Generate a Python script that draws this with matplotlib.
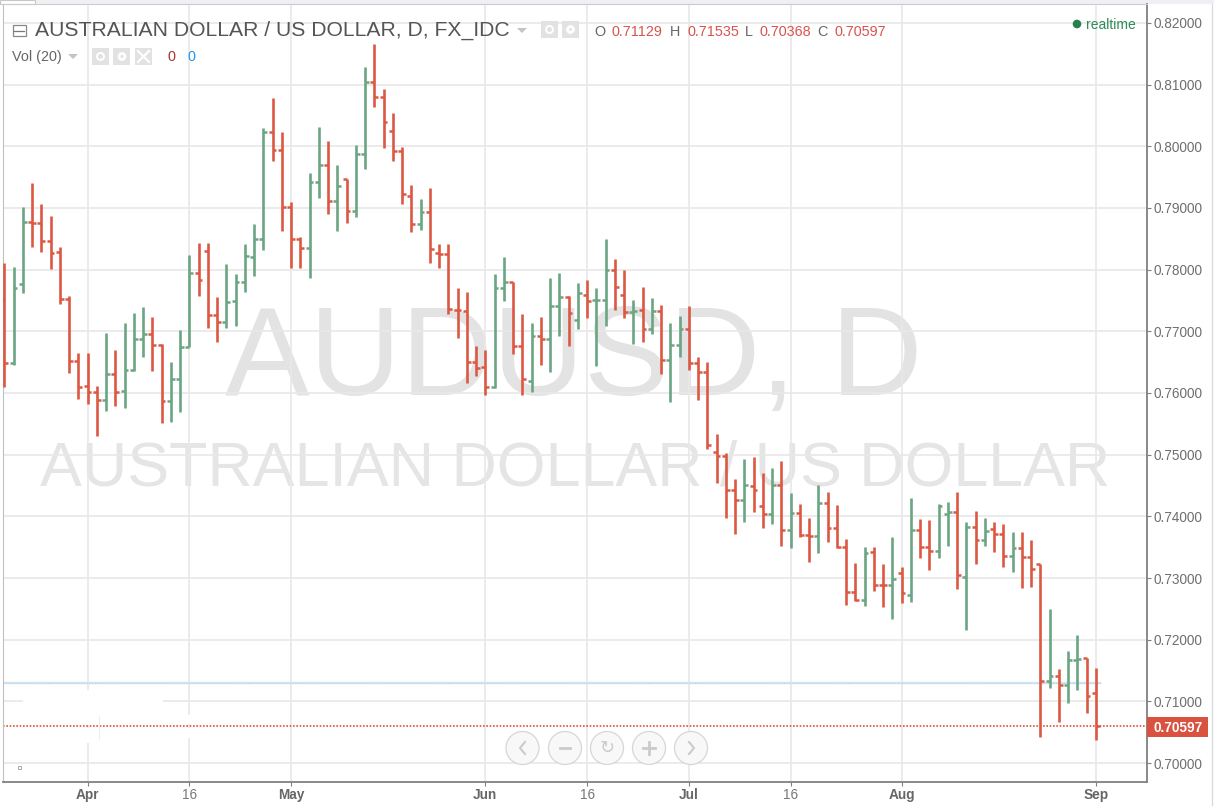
import matplotlib
matplotlib.use("Agg")
import matplotlib.pyplot as plt
from matplotlib.patches import Rectangle, Circle

plt.rcParams['font.family'] = ['Liberation Sans', 'DejaVu Sans']

opens = [.7751,.7648,.7776,.7877,.7875,.7846,.7829,.7752,.7652,.7612,
         .7602,.7589,.7630,.7603,.7637,.7688,.7695,.7678,.7587,.7623,
         .7675,.7794,.7830,.7727,.7715,.7749,.7780,.7820,.7849,.8023,
         .7994,.7901,.7849,.7835,.7942,.7970,.7911,.7947,.7895,.7987,
         .8104,.8080,.8025,.7992,.7920,.7874,.7893,.7827,.7825,.7735,
         .7733,.7650,.7642,.7609,.7771,.7780,.7677,.7619,.7693,.7688,
         .7741,.7756,.7719,.7759,.7750,.7751,.7800,.7759,.7731,.7735,
         .7703,.7733,.7654,.7678,.7704,.7648,.7634,.7504,.7498,.7443,
         .7427,.7449,.7417,.7403,.7451,.7378,.7405,.7369,.7368,.7421,
         .7381,.7351,.7277,.7264,.7342,.7289,.7289,.7308,.7272,.7378,
         .7350,.7344,.7404,.7407,.7302,.7382,.7361,.7380,.7371,.7336,
         .7348,.7334,.7322,.7133,.7141,.7127,.7167,.7170,.71129]
highs = [.7811,.7805,.7901,.7941,.7906,.7887,.7837,.7758,.7665,.7665,
         .7612,.7698,.7669,.7714,.7730,.7740,.7724,.7679,.7651,.7702,
         .7823,.7844,.7844,.7756,.7809,.7793,.7842,.7874,.8030,.8079,
         .8024,.7909,.7853,.7957,.8032,.8008,.7969,.7947,.8002,.8128,
         .8166,.8093,.8054,.7999,.7937,.7915,.7933,.7842,.7842,.7771,
         .7763,.7676,.7669,.7793,.7821,.7780,.7728,.7714,.7724,.7787,
         .7795,.7758,.7779,.7783,.7771,.7850,.7817,.7799,.7750,.7772,
         .7754,.7742,.7714,.7725,.7741,.7659,.7651,.7534,.7503,.7461,
         .7493,.7497,.7471,.7479,.7489,.7438,.7420,.7398,.7450,.7440,
         .7418,.7363,.7325,.7351,.7351,.7323,.7367,.7318,.7430,.7396,
         .7394,.7420,.7424,.7440,.7390,.7409,.7398,.7390,.7388,.7375,
         .7374,.7361,.7322,.7250,.7152,.7181,.7207,.7170,.71535]
lows = [.7610,.7645,.7762,.7837,.7829,.7801,.7744,.7632,.7590,.7582,
        .7531,.7570,.7579,.7576,.7635,.7658,.7636,.7551,.7553,.7569,
        .7675,.7757,.7705,.7682,.7705,.7709,.7763,.7790,.7832,.7976,
        .7863,.7802,.7802,.7786,.7917,.7890,.7863,.7875,.7885,.7964,
        .8064,.7997,.7977,.7906,.7861,.7865,.7810,.7802,.7728,.7689,
        .7616,.7628,.7597,.7608,.7749,.7663,.7597,.7602,.7646,.7634,
        .7693,.7677,.7703,.7721,.7644,.7709,.7735,.7721,.7679,.7683,
        .7695,.7630,.7585,.7658,.7638,.7588,.7509,.7454,.7397,.7371,
        .7391,.7407,.7381,.7387,.7352,.7348,.7367,.7326,.7340,.7358,
        .7349,.7257,.7263,.7255,.7279,.7253,.7233,.7259,.7261,.7332,
        .7313,.7332,.7352,.7282,.7215,.7322,.7352,.7342,.7318,.7310,
        .7283,.7285,.7042,.7121,.7066,.7097,.7119,.7081,.70368]
closes = [.7648,.7771,.7877,.7876,.7846,.7827,.7752,.7652,.7609,.7602,
          .7589,.7630,.7601,.7637,.7688,.7695,.7678,.7587,.7623,.7675,
          .7794,.7783,.7727,.7715,.7747,.7780,.7822,.7849,.8023,.7994,
          .7901,.7849,.7835,.7942,.7970,.7911,.7936,.7895,.7987,.8104,
          .8080,.8039,.7992,.7922,.7874,.7893,.7833,.7825,.7736,.7734,
          .7650,.7640,.7609,.7771,.7780,.7677,.7623,.7693,.7688,.7741,
          .7756,.7729,.7762,.7749,.7751,.7800,.7772,.7731,.7733,.7703,
          .7733,.7654,.7678,.7704,.7648,.7634,.7516,.7498,.7443,.7427,
          .7451,.7443,.7403,.7451,.7378,.7405,.7369,.7368,.7421,.7381,
          .7351,.7277,.7264,.7340,.7289,.7288,.7298,.7275,.7378,.7350,
          .7343,.7416,.7407,.7305,.7382,.7361,.7376,.7371,.7336,.7348,
          .7334,.7315,.7133,.7141,.7127,.7167,.7169,.7109,.70597]

tick_bars = [9, 20, 31, 52, 63, 74, 85, 97, 118]
tick_labels = ['Apr', '16', 'May', 'Jun', '16', 'Jul', '16', 'Aug', 'Sep']
price_ticks = [.70, .71, .72, .73, .74, .75, .76, .77, .78, .79, .80, .81, .82]
blue_level = 0.71295
last_close = 0.70597

UP, DOWN = '#6ba583', '#dc5843'
GRID = '#e8e8e8'
AXIS = '#808080'
W, H = 1214, 806
L_PX, R_PX, T_PX, B_PX = 3.3, 1146.5, 4.3, 782.0

fig = plt.figure(figsize=(W / 100, H / 100), dpi=100, facecolor='white')


def pix_axes(z):
    a = fig.add_axes([0, 0, 1, 1], zorder=z)
    a.set_xlim(0, W)
    a.set_ylim(H, 0)
    a.axis('off')
    a.patch.set_alpha(0)
    return a


bg = pix_axes(0)
bg.add_patch(Rectangle((0, 0), W, 4, color='#eef0f3', lw=0))
bg.add_patch(Rectangle((0, 0), 35, 4, facecolor='white', edgecolor='#c8c8c8', lw=0.8))
bg.text(573.5, 395, 'AUDUSD, D', ha='center', va='baseline', fontsize=91.3, color='#e3e3e3')
bg.text(575, 485, 'AUSTRALIAN DOLLAR / US DOLLAR', ha='center', va='baseline', fontsize=45.2, color='#e5e5e5')

ax = fig.add_axes([L_PX / W, 1 - B_PX / H, (R_PX - L_PX) / W, (B_PX - T_PX) / H], zorder=1)
ax.patch.set_alpha(0)
ax.set_xlim(-0.11, 123.48)
ax.set_ylim(0.69692, 0.82303)
ax.set_axisbelow(True)
ax.grid(True, color=GRID, lw=1.2)
ax.set_xticks(tick_bars)
ax.set_xticklabels(tick_labels)
ax.set_yticks(price_ticks)
ax.set_yticklabels(['%.5f' % p for p in price_ticks])
ax.yaxis.tick_right()
ax.tick_params(axis='y', length=3, width=0.8, color=AXIS, labelcolor='#6f6f6f', labelsize=9.8, pad=2)
ax.tick_params(axis='x', length=3, width=0.8, color=AXIS, labelcolor='#777777', labelsize=9.8, pad=1)
for lab in ax.get_xticklabels():
    if lab.get_text() != '16':
        lab.set_fontweight('bold')
        lab.set_color('#666666')
ax.spines['top'].set_color('#cccccc')
ax.spines['left'].set_color('#c0c0c0')
ax.spines['right'].set_color(AXIS)
ax.spines['bottom'].set_color(AXIS)
ax.spines['right'].set_linewidth(1.3)
ax.spines['bottom'].set_linewidth(1.3)

ax.hlines(blue_level, -0.11, 118.6, color='#cbe6f5', lw=1.7, zorder=2)
ax.hlines(blue_level, -0.11, 118.6, color='#e3a59c', lw=0.5, linestyles=(0, (1, 3)), zorder=2.1)
ax.hlines(last_close, -0.11, 123.48, color='#e2503c', lw=1.2, linestyles=(0, (1, 1)), zorder=2)

for i, (o, h, l, c) in enumerate(zip(opens, highs, lows, closes)):
    col = DOWN if c < o else UP
    ax.vlines(i, l, h, color=col, lw=1.9, zorder=3)
    ax.hlines(o, i - 0.42, i, color=col, lw=1.8, zorder=3)
    ax.hlines(c, i, i + 0.42, color=col, lw=1.8, zorder=3)

# screenshot artefact: white patches over the grid in the lower left corner
wh = pix_axes(1.5)
for x0, y0, w, h in [(23, 690, 140, 25), (80, 715, 14, 10), (80, 728, 14, 15),
                     (186, 715, 7, 9), (186, 728, 7, 10)]:
    wh.add_patch(Rectangle((x0, y0), w, h, color='white', lw=0, zorder=1))
wh.plot([99, 99], [716, 739], color='#eeeeee', lw=0.8)
wh.add_patch(Rectangle((17.5, 766), 3, 3, facecolor='white', edgecolor='#999999', lw=0.6))

top = pix_axes(3)
# header
top.add_patch(Rectangle((12.5, 25), 13, 11, facecolor='white', edgecolor='#888888', lw=0.9))
top.plot([14, 24], [30.5, 30.5], color='#777777', lw=0.9)
top.text(35, 36, 'AUSTRALIAN DOLLAR / US DOLLAR, D, FX_IDC', fontsize=15.25, color='#555555', va='baseline')
top.fill([517, 527, 522], [28, 28, 33], color='#c4c4c4', lw=0)
for x0 in (541, 562):
    top.add_patch(Rectangle((x0, 21), 17, 17, color='#e2e2e2', lw=0))
top.add_patch(Circle((549.5, 29.5), 3.5, facecolor='none', edgecolor='white', lw=1.4))
top.add_patch(Circle((570.5, 29.5), 4, facecolor='white', edgecolor='white', lw=0.5))
top.add_patch(Circle((570.5, 29.5), 1.5, facecolor='#e2e2e2', lw=0))

items = [(594, 'O', '#666666'), (612, '0.71129', '#d9534f'),
         (670, 'H', '#666666'), (687.5, '0.71535', '#d9534f'),
         (745, 'L', '#666666'), (759.5, '0.70368', '#d9534f'),
         (817, 'C', '#666666'), (834.5, '0.70597', '#d9534f')]
for x0, s, col in items:
    top.text(x0, 36, s, fontsize=10.4, color=col, va='baseline')

top.text(12, 61, 'Vol (20)', fontsize=10.4, color='#666666', va='baseline')
top.fill([68, 78, 73], [54, 54, 59], color='#c4c4c4', lw=0)
for x0 in (92, 113, 135):
    top.add_patch(Rectangle((x0, 48), 17, 17, color='#e2e2e2', lw=0))
top.add_patch(Circle((100.5, 56.5), 3.5, facecolor='none', edgecolor='white', lw=1.4))
top.add_patch(Circle((122, 56.5), 4, facecolor='white', edgecolor='white', lw=0.5))
top.add_patch(Circle((122, 56.5), 1.5, facecolor='#e2e2e2', lw=0))
top.plot([138, 149], [51, 62], color='white', lw=1.6)
top.plot([138, 149], [62, 51], color='white', lw=1.6)
top.text(167, 61, '0', fontsize=10.4, color='#a83232', va='baseline')
top.text(187, 61, '0', fontsize=10.4, color='#2196f3', va='baseline')

top.add_patch(Circle((1077, 24), 4.3, color='#24804f', lw=0))
top.text(1086, 29, 'realtime', fontsize=10, color='#2e8b57', va='baseline')

# last price label
top.add_patch(Rectangle((1147, 717), 61, 19.5, color='#d9513f', lw=0))
top.text(1153, 731.5, '0.70597', fontsize=9.8, fontweight='bold', color='white', va='baseline')

# right edge of the widget
top.plot([1212, 1212], [4, 806], color='#d9d9d9', lw=0.9)

# navigation buttons
for xc in (522.5, 565, 607, 649, 691):
    top.add_patch(Circle((xc, 748), 16.5, facecolor='#f8f8f8', edgecolor='#d6d6d6', lw=0.9))
ic = '#cbcbcb'
top.plot([525, 520, 525], [742, 748, 754], color=ic, lw=1.5)
top.plot([560, 570], [748, 748], color=ic, lw=2.0)
top.text(607, 748, '\u21bb', fontsize=13, color=ic, ha='center', va='center', family='DejaVu Sans')
top.plot([643, 655], [748, 748], color=ic, lw=2.0)
top.plot([649, 649], [742, 754], color=ic, lw=2.0)
top.plot([689, 694, 689], [742, 748, 754], color=ic, lw=1.5)

fig.savefig('out.png', dpi=100, facecolor='white')
